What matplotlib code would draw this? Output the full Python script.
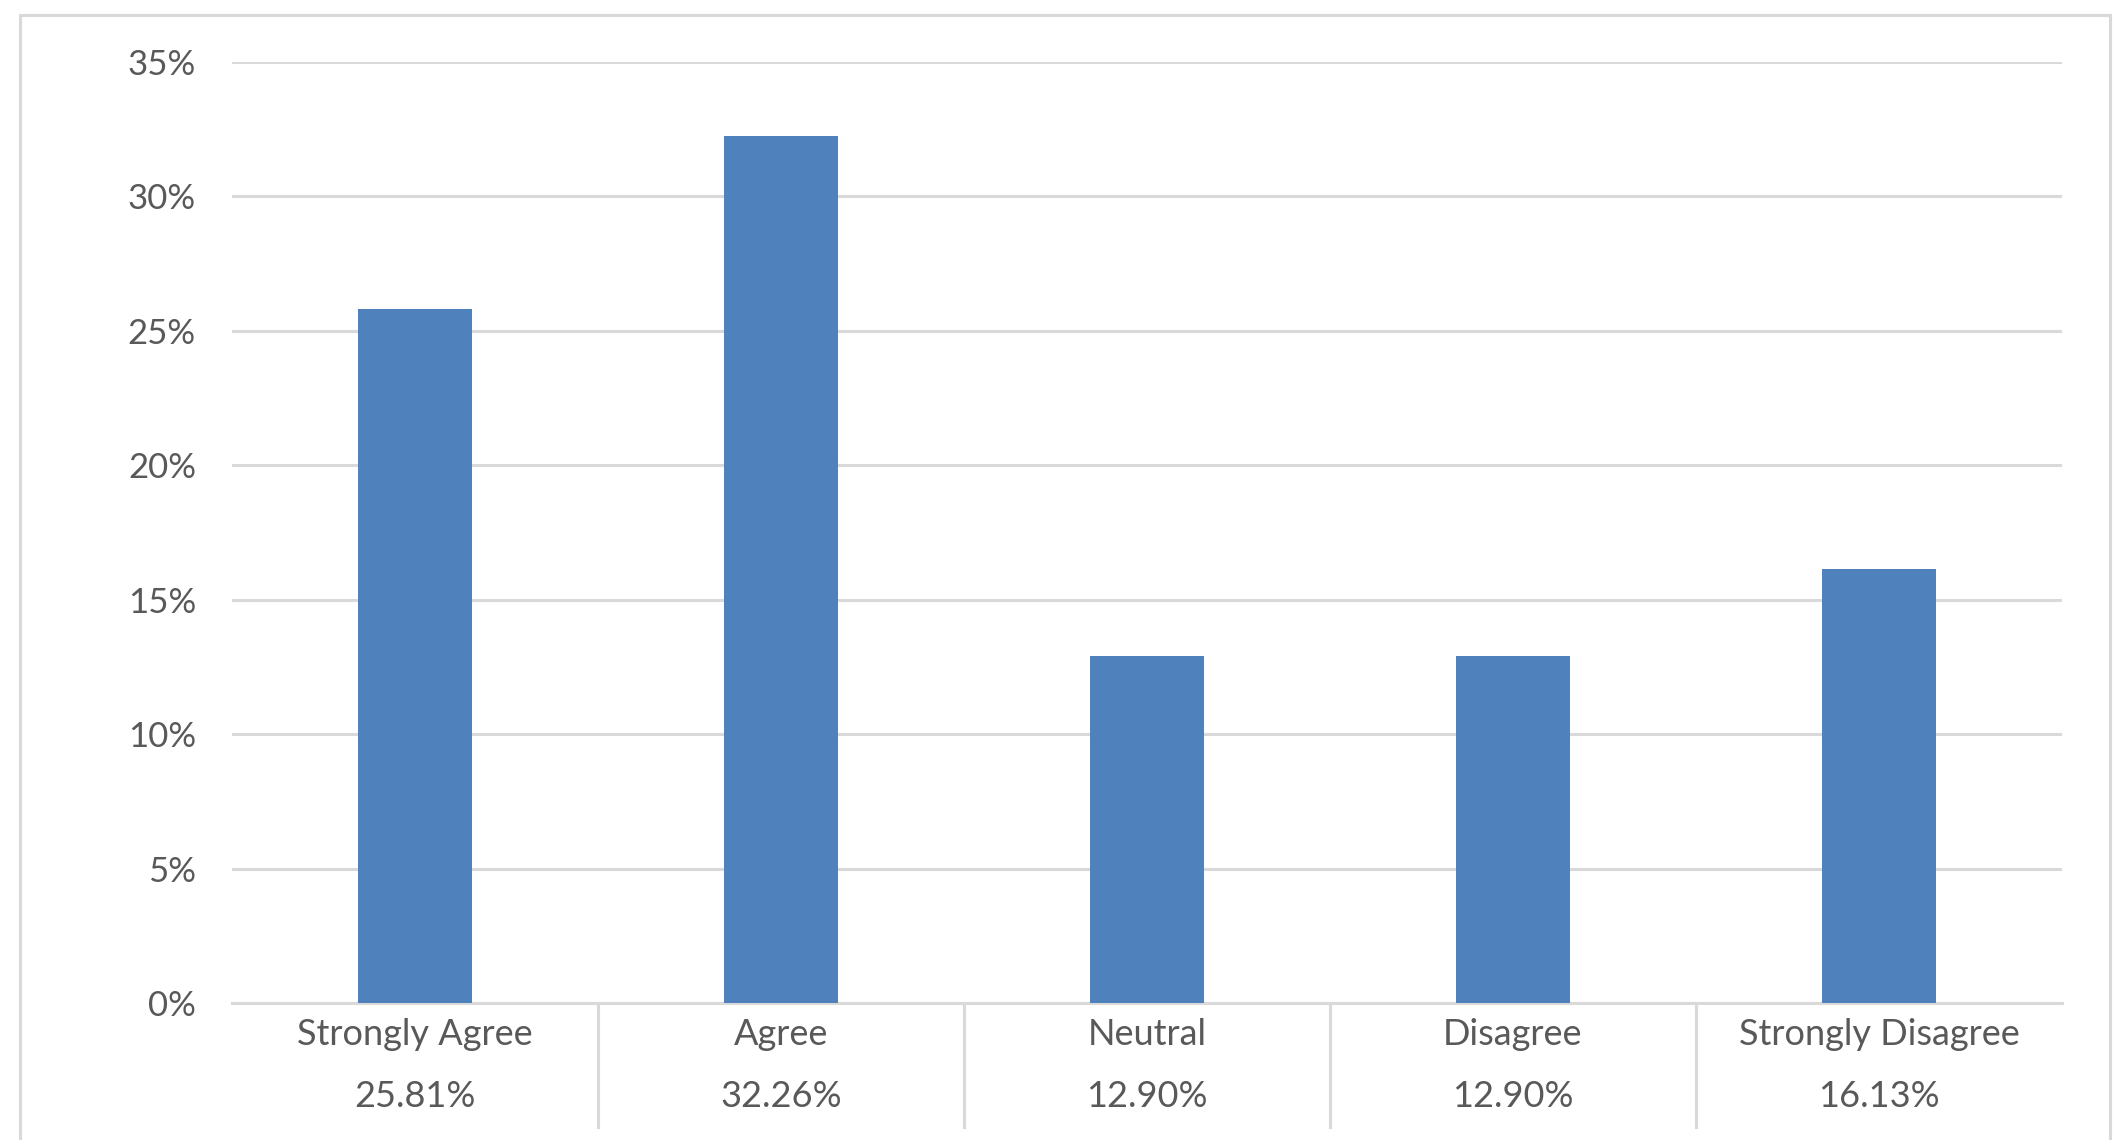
import matplotlib.pyplot as plt
from matplotlib.patches import Rectangle
import numpy as np

categories = ['Strongly Agree', 'Agree', 'Neutral', 'Disagree', 'Strongly Disagree']
values = [25.81, 32.26, 12.90, 12.90, 16.13]   # percent
y_ticks = [0, 5, 10, 15, 20, 25, 30, 35]

bar_color = '#4F81BD'
grid_color = '#D9D9D9'
text_color = '#595959'
plt.rcParams['font.family'] = ['Lato', 'DejaVu Sans']

W, H = 2116, 1140
fig = plt.figure(figsize=(W / 100, H / 100), dpi=100)

# plot area in pixels: left 232, right 2062, top 62, bottom (0%) 1003
ax = fig.add_axes([232 / W, (H - 1003) / H, (2062 - 232) / W, (1003 - 62) / H])

x = np.arange(len(categories))
ax.bar(x, values, width=0.31, color=bar_color, zorder=3)

ax.set_xlim(-0.5, len(categories) - 0.5)
ax.set_ylim(0, 35)
ax.set_yticks(y_ticks)
ax.set_yticklabels(['{}%'.format(t) for t in y_ticks])
ax.yaxis.grid(True, color=grid_color, linewidth=2.2, zorder=0)
ax.tick_params(axis='y', length=0, pad=26, labelsize=25, labelcolor=text_color)
ax.set_xticks([])
for s in ['top', 'right', 'left']:
    ax.spines[s].set_visible(False)
ax.spines['bottom'].set_color(grid_color)
ax.spines['bottom'].set_linewidth(2.2)

# table-like category labels under the axis
trans = ax.get_xaxis_transform()
for i, (c, v) in enumerate(zip(categories, values)):
    ax.text(i, -0.034, c, transform=trans, ha='center', va='center',
            fontsize=26, color=text_color)
    ax.text(i, -0.099, '{:.2f}%'.format(v), transform=trans, ha='center', va='center',
            fontsize=26, color=text_color)
for b in np.arange(0.5, len(categories) - 1, 1.0):
    ax.plot([b, b], [0, -0.132], transform=trans, color=grid_color,
            linewidth=2.2, clip_on=False)

# outer chart frame (bottom edge falls off the image)
fig.patches.append(Rectangle((20 / W, -0.05), (2110 - 20) / W, 1.05 - 15 / H,
                             transform=fig.transFigure, fill=False,
                             edgecolor=grid_color, linewidth=2.2))

fig.savefig('out.png', dpi=100)
